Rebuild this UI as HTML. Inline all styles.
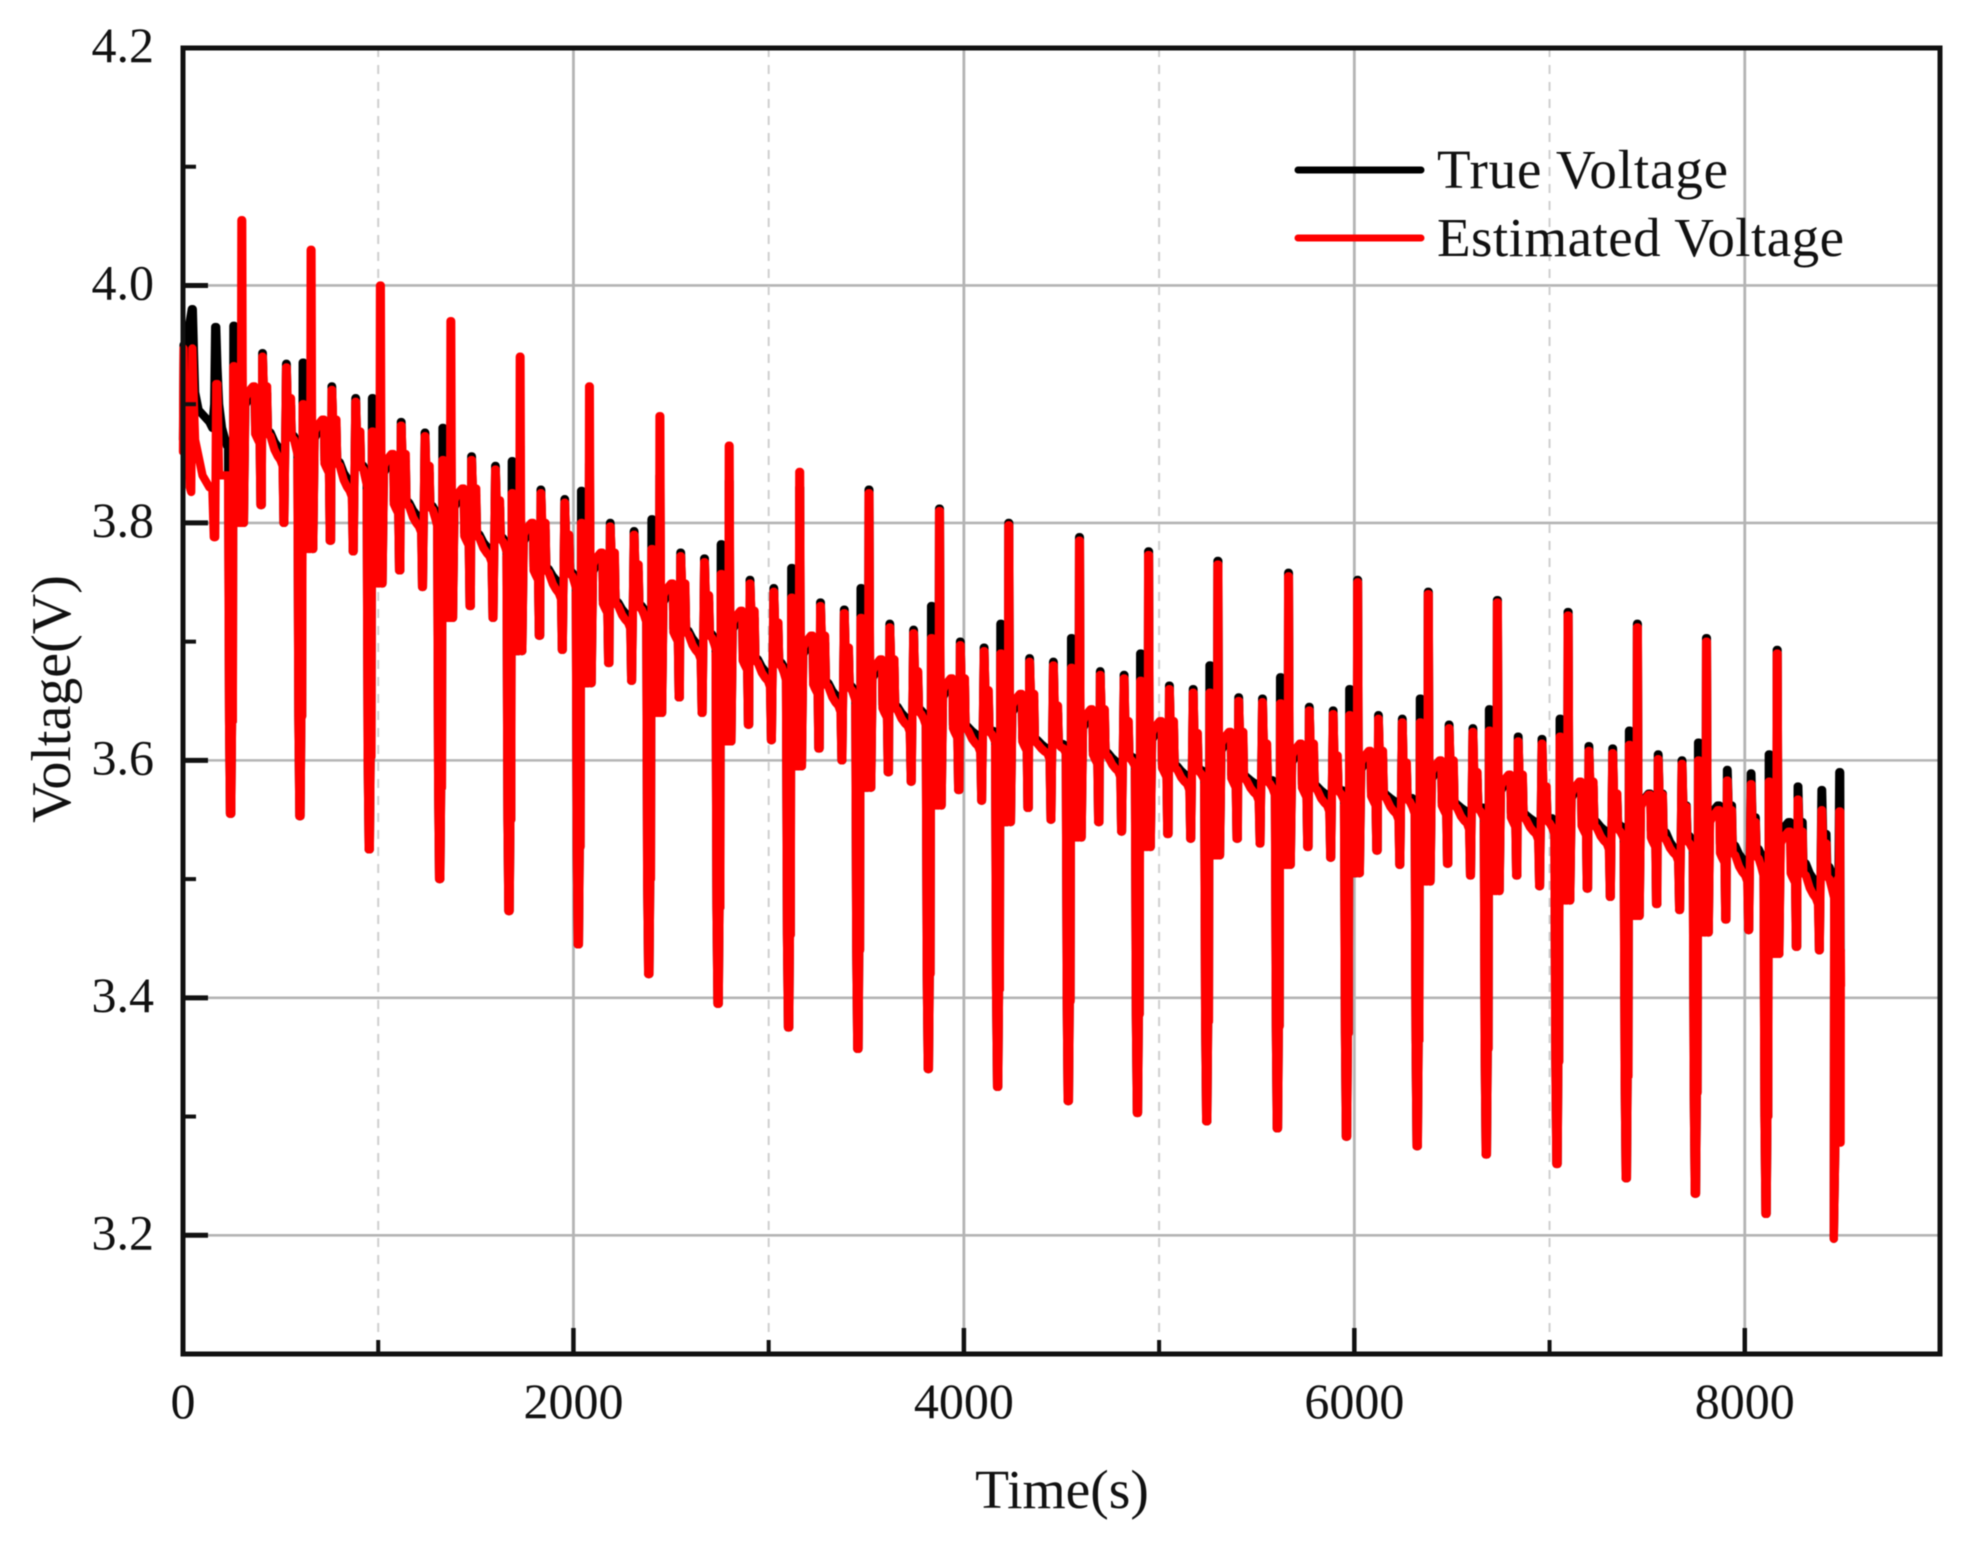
<!DOCTYPE html>
<html lang="en">
<head>
<meta charset="utf-8">
<title>True and Estimated Voltage over Time</title>
<style>
html,body{margin:0;padding:0;background:#fff;width:1974px;height:1542px;overflow:hidden}
svg{display:block;font-family:"Liberation Serif",serif;fill:#111;filter:blur(0.6px)}
</style>
</head>
<body>
<svg id="chart" xmlns="http://www.w3.org/2000/svg" width="1974" height="1542" viewBox="0 0 1974 1542">
  <rect x="0" y="0" width="1974" height="1542" fill="#fff"/>
  <g id="grid"></g>
  <g id="series"></g>
  <rect x="183" y="48" width="1757" height="1306" fill="none" stroke="#111" stroke-width="5"/>
  <g id="ticks"></g>
  <g id="labels" font-size="50"></g>
  <text x="1062" y="1508" font-size="55.5" text-anchor="middle">Time(s)</text>
  <text transform="translate(70 699) rotate(-90)" font-size="56" text-anchor="middle">Voltage(V)</text>
  <g>
    <line x1="1298" y1="170" x2="1421" y2="170" stroke="#000" stroke-width="7" stroke-linecap="round"/>
    <text x="1437" y="188" font-size="55" textLength="291">True Voltage</text>
    <line x1="1298" y1="238" x2="1421" y2="238" stroke="#f00" stroke-width="7" stroke-linecap="round"/>
    <text x="1437" y="256" font-size="55" textLength="407">Estimated Voltage</text>
  </g>
</svg>
<script>
// Axis tick data
const xMajorTicks = [0, 2000, 4000, 6000, 8000];
const xTickLabels = ["0", "2000", "4000", "6000", "8000"];
const xMinorTicks = [1000, 3000, 5000, 7000, 9000];
const yMajorTicks = [4.2, 4.0, 3.8, 3.6, 3.4, 3.2];
const yTickLabels = ["4.2", "4.0", "3.8", "3.6", "3.4", "3.2"];
const yMinorTicks = [4.1, 3.9, 3.7, 3.5, 3.3];

// Time of each large pulse (s)
const pulseTimes = [303,658,1013,1374,1729,2084,2445,2800,3161,3516,3877,4232,4594,4948,5303,5665,6019,6381,6735,7097,7452,7806,8168];

// Voltage levels shared by both series (V), read per pulse
const deepDip = [3.555,3.553,3.525,3.50,3.473,3.445,3.42,3.395,3.375,3.357,3.34,3.325,3.313,3.303,3.296,3.29,3.283,3.275,3.268,3.26,3.248,3.235,3.218];
const stepLevel = [3.633,3.637,3.603,3.577,3.55,3.527,3.50,3.476,3.453,3.44,3.42,3.407,3.397,3.386,3.38,3.376,3.37,3.364,3.357,3.346,3.334,3.32,3.30];
const blockBottom = [3.80,3.778,3.749,3.72,3.692,3.665,3.64,3.616,3.595,3.577,3.562,3.548,3.535,3.527,3.52,3.512,3.505,3.498,3.49,3.482,3.469,3.455,3.437];
const lowAfterPulse1 = [3.815,3.785,3.76,3.73,3.705,3.682,3.653,3.63,3.61,3.59,3.575,3.56,3.548,3.538,3.534,3.527,3.524,3.513,3.503,3.492,3.479,3.466,3.443];
const lowAfterPulse2 = [3.80,3.776,3.746,3.72,3.693,3.667,3.64,3.617,3.60,3.582,3.566,3.55,3.54,3.534,3.53,3.518,3.512,3.503,3.494,3.485,3.474,3.457,3.44];

// Estimated voltage series (V)
const estBig = [4.055,4.03,4.0,3.97,3.94,3.915,3.89,3.865,3.843,3.825,3.81,3.798,3.785,3.773,3.765,3.755,3.75,3.74,3.733,3.722,3.712,3.70,3.69];
const estMedium = [3.932,3.90,3.877,3.853,3.825,3.80,3.778,3.757,3.737,3.72,3.703,3.69,3.678,3.667,3.657,3.648,3.638,3.632,3.625,3.62,3.613,3.60,3.582];
const estTop1 = [3.94,3.912,3.882,3.853,3.825,3.797,3.772,3.749,3.73,3.712,3.697,3.683,3.672,3.66,3.65,3.642,3.635,3.627,3.616,3.608,3.601,3.583,3.567];
const estTop2 = [3.931,3.902,3.873,3.845,3.817,3.79,3.767,3.742,3.724,3.707,3.692,3.68,3.669,3.657,3.649,3.639,3.632,3.624,3.614,3.606,3.597,3.58,3.558];
const estPlateau = [3.915,3.887,3.858,3.829,3.80,3.775,3.749,3.726,3.705,3.685,3.669,3.656,3.643,3.633,3.624,3.614,3.608,3.60,3.588,3.582,3.571,3.558,3.54];
const estCurveStart = [3.875,3.85,3.816,3.789,3.76,3.732,3.708,3.684,3.664,3.644,3.627,3.616,3.605,3.594,3.585,3.577,3.57,3.562,3.552,3.545,3.535,3.522,3.505];
const estCurveEnd = [3.853,3.827,3.797,3.772,3.741,3.716,3.69,3.667,3.646,3.629,3.612,3.606,3.591,3.58,3.571,3.562,3.555,3.547,3.538,3.53,3.52,3.503,3.484];
const estHeadTimes = [0,3,10,28,35,42,48,56,62,100,135,150,158,165,170,176,185,190,225];
const estHeadVolts = [3.86,3.947,3.84,3.91,3.83,3.826,3.947,3.90,3.87,3.84,3.83,3.83,3.788,3.788,3.917,3.917,3.84,3.84,3.84];
const estTailTimes = [8456,8464,8470,8476,8478,8484,8489,8491,8492,8493];
const estTailVolts = [3.197,3.28,3.28,3.50,3.28,3.557,3.557,3.278,3.44,3.41];

// True voltage series (V)
const trueBig = [3.96,3.93,3.905,3.885,3.865,3.85,3.84,3.835,3.83,3.828,3.812,3.80,3.788,3.776,3.768,3.758,3.752,3.742,3.735,3.725,3.715,3.703,3.693];
const trueMedium = [3.966,3.935,3.905,3.88,3.852,3.827,3.803,3.782,3.762,3.745,3.73,3.715,3.703,3.69,3.68,3.67,3.66,3.652,3.643,3.635,3.625,3.615,3.605];
const trueTop1 = [3.943,3.915,3.885,3.856,3.828,3.80,3.775,3.752,3.733,3.715,3.70,3.686,3.675,3.663,3.653,3.645,3.638,3.63,3.62,3.612,3.605,3.592,3.578];
const trueTop2 = [3.934,3.905,3.876,3.848,3.82,3.793,3.77,3.745,3.727,3.71,3.695,3.683,3.672,3.66,3.652,3.642,3.635,3.627,3.618,3.61,3.60,3.589,3.575];
const truePlateau = [3.909,3.881,3.852,3.823,3.794,3.769,3.743,3.72,3.699,3.679,3.663,3.65,3.637,3.627,3.618,3.608,3.602,3.594,3.584,3.578,3.572,3.562,3.548];
const trueCurveStart = [3.878,3.853,3.819,3.792,3.763,3.735,3.711,3.687,3.667,3.647,3.63,3.619,3.608,3.597,3.588,3.58,3.573,3.565,3.556,3.55,3.541,3.53,3.515];
const trueCurveEnd = [3.862,3.835,3.805,3.778,3.75,3.722,3.697,3.673,3.653,3.635,3.621,3.61,3.598,3.587,3.58,3.571,3.565,3.557,3.548,3.54,3.525,3.515,3.498];
const trueHeadTimes = [0,3,10,25,45,50,56,62,80,135,150,160,165,170,176,185,200,225];
const trueHeadVolts = [3.87,3.95,3.88,3.96,3.98,3.98,3.945,3.91,3.895,3.885,3.88,3.90,3.965,3.965,3.932,3.90,3.88,3.865];
const trueTailTimes = [8456,8464,8470,8484,8489,8491,8492];
const trueTailVolts = [3.197,3.28,3.28,3.59,3.59,3.44,3.44];

// Axis functions
const plotLeft = 183, plotRight = 1940, plotTop = 48, plotBottom = 1354;
const xMin = 0, xMax = 9000, yMin = 3.1, yMax = 4.2;
function xScale(t){ return plotLeft + (t - xMin) / (xMax - xMin) * (plotRight - plotLeft); }
function yScale(v){ return plotBottom - (v - yMin) / (yMax - yMin) * (plotBottom - plotTop); }

const SVG_NS = "http://www.w3.org/2000/svg";
function makeLine(parent, x1, y1, x2, y2, stroke, width, dash){
  const el = document.createElementNS(SVG_NS, "line");
  el.setAttribute("x1", x1); el.setAttribute("y1", y1);
  el.setAttribute("x2", x2); el.setAttribute("y2", y2);
  el.setAttribute("stroke", stroke); el.setAttribute("stroke-width", width);
  if (dash) el.setAttribute("stroke-dasharray", dash);
  parent.appendChild(el);
  return el;
}
function makeLabel(parent, x, y, anchor, content){
  const el = document.createElementNS(SVG_NS, "text");
  el.setAttribute("x", x); el.setAttribute("y", y);
  el.setAttribute("text-anchor", anchor);
  el.textContent = content;
  parent.appendChild(el);
  return el;
}

const gridGroup = document.getElementById("grid");
const tickGroup = document.getElementById("ticks");
const labelGroup = document.getElementById("labels");

yMajorTicks.forEach(function(v, i){
  const g = makeLine(gridGroup, plotLeft, yScale(v), plotRight, yScale(v), "#b4b4b4", 2.6);
  
  
  const t = makeLine(tickGroup, plotLeft, yScale(v), plotLeft + 25, yScale(v), "#111", 5);
  
  
  const l = makeLabel(labelGroup, 154, yScale(v) + 14, "end", yTickLabels[i]);
  
  
});
yMinorTicks.forEach(function(v){
  const t = makeLine(tickGroup, plotLeft, yScale(v), plotLeft + 13, yScale(v), "#111", 4);
  
  
});
xMajorTicks.forEach(function(v, i){
  if (v > xMin) {
    const g = makeLine(gridGroup, xScale(v), plotTop, xScale(v), plotBottom, "#b4b4b4", 2.8);
    
    
  }
  const t = makeLine(tickGroup, xScale(v), plotBottom, xScale(v), plotBottom - 26, "#111", 4.5);
  
  
  const l = makeLabel(labelGroup, xScale(v), 1418, "middle", xTickLabels[i]);
  
  
});
xMinorTicks.forEach(function(v){
  if (v < xMax) {
    const g = makeLine(gridGroup, xScale(v), plotTop, xScale(v), plotBottom, "#cfcfcf", 2, "9 8");
    
    
  }
  const t = makeLine(tickGroup, xScale(v), plotBottom, xScale(v), plotBottom - 14, "#111", 4);
  
  
});

// Assemble one trace from its per-pulse readings
function buildTrace(big, medium, top1, top2, plateau, curveStart, curveEnd, headT, headV, tailT, tailV){
  const pts = [];
  headT.forEach(function(t, i){ pts.push([t, headV[i]]); });
  pulseTimes.forEach(function(t0, i){
    const C = deepDip[i], B = stepLevel[i], A = blockBottom[i];
    const L1 = lowAfterPulse1[i], L2 = lowAfterPulse2[i];
    const M = medium[i], P = plateau[i], S = curveStart[i], E = curveEnd[i];
    const prevEnd = i > 0 ? curveEnd[i - 1] : headV[headV.length - 1];
    const seq = [
      [-72, prevEnd], [-67, B], [-62, C], [-56, C], [-52, B], [-48, B], [-45, M], [-40, M],
      [-35, A], [-30, M - 0.005], [-25, A], [-20, M - 0.005], [-15, A], [-10, M - 0.01], [-7, A],
      [-4, big[i]], [0, big[i]], [5, A], [9, A],
      [16, P - 0.01], [30, P - 0.005], [55, P], [64, P], [67, S], [75, S - 0.003], [90, S - 0.008],
      [94, L1], [100, L1], [103, top1[i]], [106, top1[i]], [111, P], [128, P], [132, S],
      [145, S - 0.002], [165, S + (E - S) * 0.6], [182, S + (E - S) * 0.85], [196, E], [207, E - 0.005],
      [212, L2], [216, L2], [225, top2[i]], [228, top2[i]], [233, P - 0.01], [250, P - 0.01],
      [254, S - 0.003], [266, S - 0.005], [278, S + (E - S) * 0.6], [290, E]
    ];
    seq.forEach(function(p){ pts.push([t0 + p[0], p[1]]); });
  });
  tailT.forEach(function(t, i){ pts.push([t, tailV[i]]); });
  return pts;
}
function drawTrace(pts, color, name){
  const el = document.createElementNS(SVG_NS, "polyline");
  el.setAttribute("points", pts.map(function(p){ return xScale(p[0]).toFixed(1) + "," + yScale(p[1]).toFixed(1); }).join(" "));
  el.setAttribute("fill", "none");
  el.setAttribute("stroke", color);
  el.setAttribute("stroke-width", "8.3");
  el.setAttribute("stroke-linejoin", "round");
  el.setAttribute("stroke-linecap", "round");
  
  
  document.getElementById("series").appendChild(el);
}
drawTrace(buildTrace(trueBig, trueMedium, trueTop1, trueTop2, truePlateau, trueCurveStart, trueCurveEnd, trueHeadTimes, trueHeadVolts, trueTailTimes, trueTailVolts), "#000", "true-voltage-line");
drawTrace(buildTrace(estBig, estMedium, estTop1, estTop2, estPlateau, estCurveStart, estCurveEnd, estHeadTimes, estHeadVolts, estTailTimes, estTailVolts), "#f00", "estimated-voltage-line");
</script>
</body>
</html>
